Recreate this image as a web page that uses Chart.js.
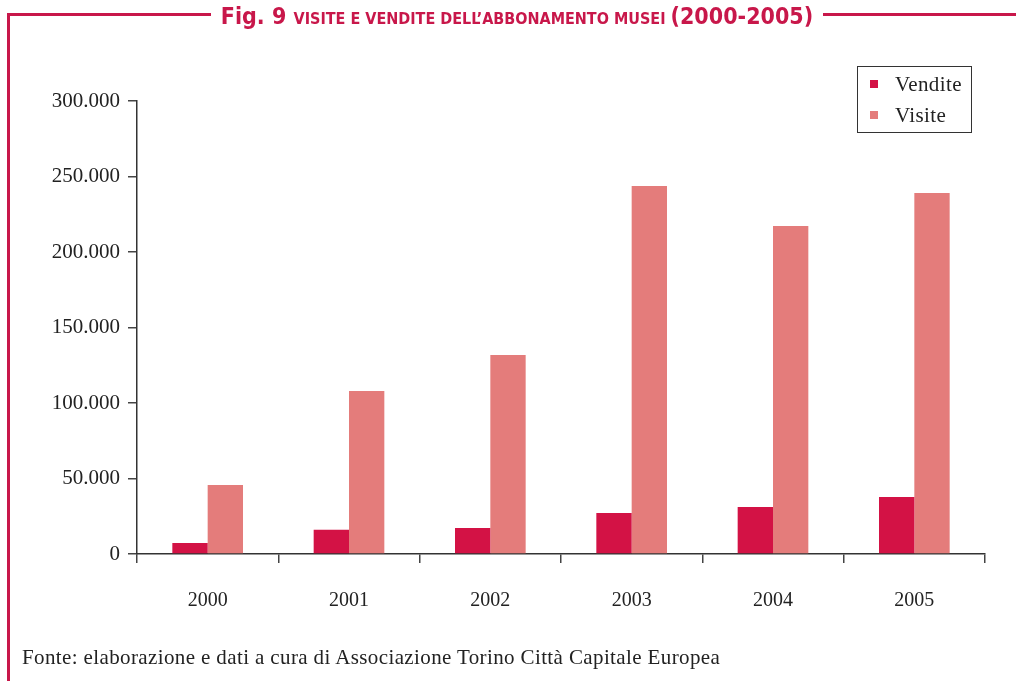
<!DOCTYPE html>
<html><head><meta charset="utf-8">
<script src="https://cdn.jsdelivr.net/npm/chart.js@4.4.1/dist/chart.umd.min.js"></script>
<style>
html,body{margin:0;padding:0;background:#fff;}
#wrap{position:relative;width:1016px;height:681px;overflow:hidden;}
#c{position:absolute;left:0;top:0;}
.frameH{position:absolute;height:3px;background:#c8174a;top:13px;}
#frameV{position:absolute;left:7px;top:13px;width:3px;height:668px;background:#c8174a;}
#title{position:absolute;top:1px;left:214px;width:606px;text-align:center;color:#c8174a;font-family:'DejaVu Sans Condensed','DejaVu Sans',sans-serif;font-stretch:condensed;font-weight:bold;white-space:nowrap;line-height:30px;}
#title .big{font-size:23px;}
#title .sc{font-size:16px;}
#legend{position:absolute;left:857px;top:66px;width:113px;height:65px;border:1.5px solid #333;font-family:'Liberation Serif',serif;font-size:21px;color:#222;}
.li{position:absolute;left:0;height:30px;line-height:30px;}
.sw{position:absolute;left:12px;top:11px;width:8px;height:8px;}
.lt{position:absolute;left:37px;top:0;letter-spacing:0.4px;}
#foot{position:absolute;left:22px;top:645px;font-family:'Liberation Serif',serif;font-size:21px;letter-spacing:0.38px;color:#222;white-space:nowrap;}
</style></head>
<body>
<div id="wrap">
<canvas id="c" width="1016" height="681"></canvas>
<div class="frameH" style="left:7px;width:204px;"></div>
<div class="frameH" style="left:823px;width:193px;"></div>
<div id="frameV"></div>
<div id="title"><span class="big">Fig. 9 </span><span class="sc">VISITE E VENDITE DELL’ABBONAMENTO MUSEI </span><span class="big">(2000-2005)</span></div>
<div id="legend"></div>
<div id="foot">Fonte: elaborazione e dati a cura di Associazione Torino Città Capitale Europea</div>
</div>
<script>
const categories = ['2000','2001','2002','2003','2004','2005'];
const seriesNames = ['Vendite','Visite'];
const vendite = [7300, 16000, 17200, 27200, 31100, 37700];
const visite = [45700, 108000, 131800, 243700, 217200, 239000];
const yTicks = [0, 50000, 100000, 150000, 200000, 250000, 300000];
const colors = ['#d31245', '#e47c7b'];

function fmt(v){ return String(v).replace(/\B(?=(\d{3})+(?!\d))/g, '.'); }

const lg = document.getElementById('legend');
seriesNames.forEach((n,i)=>{
  const d = document.createElement('div');
  d.className='li'; d.style.top=(i*31+2)+'px';
  d.innerHTML='<span class="sw" style="background:'+colors[i]+'"></span><span class="lt">'+n+'</span>';
  lg.appendChild(d);
});

new Chart(document.getElementById('c'), {
  type:'bar',
  data:{
    labels:categories,
    datasets:[
      {label:seriesNames[0], data:vendite, backgroundColor:colors[0], barPercentage:1.0, categoryPercentage:0.5},
      {label:seriesNames[1], data:visite, backgroundColor:colors[1], barPercentage:1.0, categoryPercentage:0.5}
    ]
  },
  options:{
    responsive:false, animation:false,
    layout:{padding:{left:0, right:31, top:101, bottom:0}},
    plugins:{legend:{display:false}, tooltip:{enabled:false}, title:{display:false}},
    scales:{
      x:{
        offset:true,
        grid:{offset:true, drawOnChartArea:false, drawTicks:true, tickLength:9, color:'#444', lineWidth:1.5},
        border:{display:true, color:'#333', width:1.5},
        ticks:{color:'#222', padding:26, font:{family:'Liberation Serif', size:20}},
        afterFit:(s)=>{ s.height = 681-554; }
      },
      y:{
        min:0, max:300000,
        afterBuildTicks:(s)=>{ s.ticks = yTicks.map(v=>({value:v})); },
        grid:{drawOnChartArea:false, drawTicks:true, tickLength:9, color:'#444', lineWidth:1.5},
        border:{display:true, color:'#333', width:1.5},
        ticks:{color:'#222', padding:8, font:{family:'Liberation Serif', size:21}, callback:(v)=>fmt(v)},
        afterFit:(s)=>{ s.width = 137; }
      }
    }
  }
});
</script>
</body></html>
